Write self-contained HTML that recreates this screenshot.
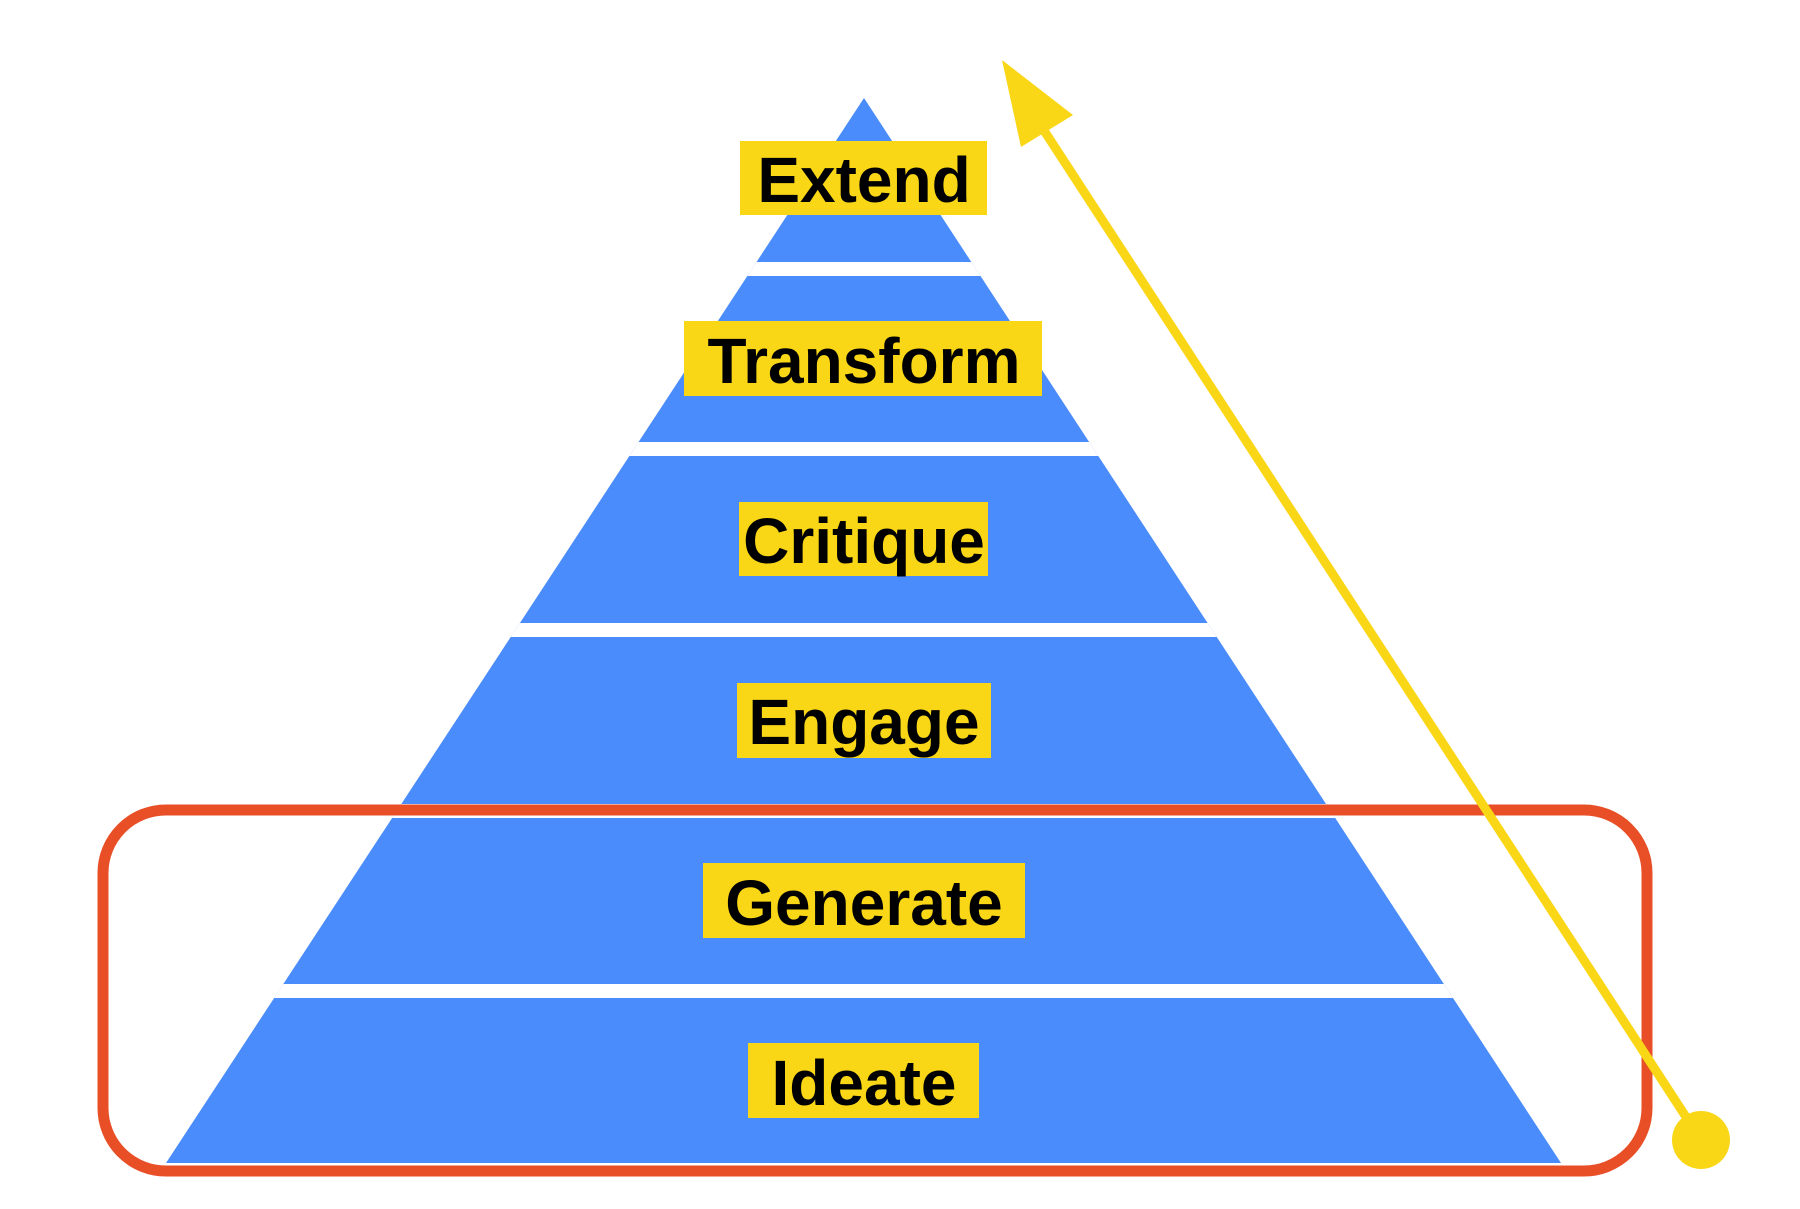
<!DOCTYPE html>
<html><head><style>
html,body{margin:0;padding:0;background:#fff;}
svg{display:block;}
text{font-family:"Liberation Sans",sans-serif;font-weight:bold;font-size:64px;fill:#000;}
</style></head><body>
<svg width="1800" height="1209" viewBox="0 0 1800 1209">
<defs><clipPath id="c"><polygon points="864,98 1561,1163 166,1163"/></clipPath></defs>
<g clip-path="url(#c)">
<rect x="0" y="0" width="1800" height="1209" fill="#4a8cfb"/>
<rect x="0" y="262" width="1800" height="14" fill="#fff"/>
<rect x="0" y="442" width="1800" height="14" fill="#fff"/>
<rect x="0" y="623" width="1800" height="14" fill="#fff"/>
<rect x="0" y="804" width="1800" height="14" fill="#fff"/>
<rect x="0" y="984" width="1800" height="14" fill="#fff"/>
</g>
<g fill="#f9d616">
<rect x="740" y="141" width="247" height="74"/>
<rect x="684" y="321" width="358" height="75"/>
<rect x="739" y="502" width="249" height="74"/>
<rect x="737" y="683" width="254" height="75"/>
<rect x="703" y="863" width="322" height="75"/>
<rect x="748" y="1043" width="231" height="75"/>
</g>
<g text-anchor="middle">
<text x="864" y="202">Extend</text>
<text x="864" y="383">Transform</text>
<text x="864" y="563">Critique</text>
<text x="864" y="744">Engage</text>
<text x="864" y="925">Generate</text>
<text x="864" y="1105">Ideate</text>
</g>
<rect x="103" y="810" width="1544" height="361" rx="63" fill="none" stroke="#e84f27" stroke-width="11"/>
<line x1="1701" y1="1140" x2="1045" y2="132" stroke="#f9d616" stroke-width="9"/>
<polygon points="1002,60 1073,115 1021,147" fill="#f9d616"/>
<circle cx="1701" cy="1140" r="29" fill="#f9d616"/>
</svg>
</body></html>
